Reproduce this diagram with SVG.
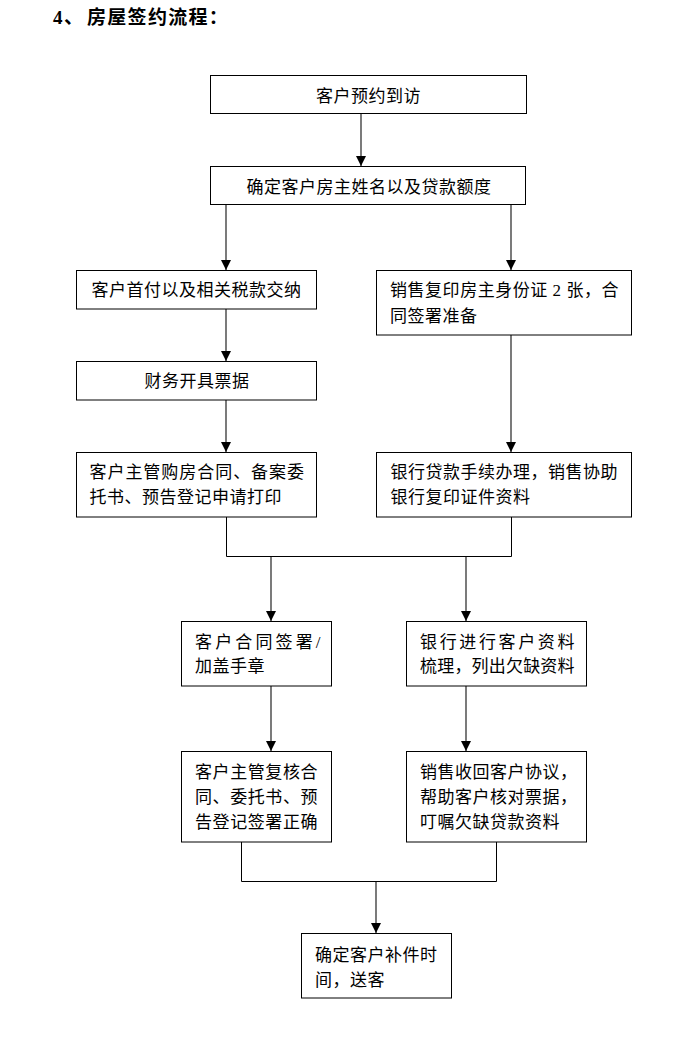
<svg xmlns="http://www.w3.org/2000/svg" width="690" height="1045" viewBox="0 0 690 1045">
<style>
  .box { fill: #fff; stroke: #000; stroke-width: 1; }
  .t { font-family: "Liberation Serif", "Noto Sans CJK SC", serif; font-size: 17px; fill: #000; letter-spacing: 0.5px; }
  .c { text-anchor: middle; }
  .title { font-family: "Liberation Serif", "Noto Sans CJK SC", serif; font-size: 19px; font-weight: bold; fill: #000; }
  .ln { fill: none; stroke: #000; stroke-width: 1; }
  .ar { fill: none; stroke: #333; stroke-width: 1.3; marker-end: url(#arrow); }
</style>
<defs>
  <marker id="arrow" viewBox="0 0 10 10" refX="10" refY="5" markerWidth="10" markerHeight="10" markerUnits="userSpaceOnUse" orient="auto">
    <path d="M0,0 L10,5 L0,10 Z" fill="#000"/>
  </marker>
</defs>
<rect width="690" height="1045" fill="#fff"/>

<g id="title">
  <text class="title" x="53" y="24">4<tspan x="64">、</tspan><tspan x="87" letter-spacing="1.3">房屋签约流程：</tspan></text>
</g>

<g id="connectors">
  <line class="ar" x1="361" y1="114" x2="361" y2="166"/>
  <line class="ar" x1="226" y1="205" x2="226" y2="270"/>
  <line class="ar" x1="511" y1="205" x2="511" y2="270"/>
  <line class="ar" x1="226" y1="309" x2="226" y2="361"/>
  <line class="ar" x1="226" y1="400" x2="226" y2="452"/>
  <line class="ar" x1="511" y1="335" x2="511" y2="452"/>
  <polyline class="ln" points="226.5,517 226.5,556.5 511.5,556.5 511.5,517"/>
  <line class="ar" x1="271" y1="557" x2="271" y2="621"/>
  <line class="ar" x1="466" y1="557" x2="466" y2="621"/>
  <line class="ar" x1="271" y1="686" x2="271" y2="751"/>
  <line class="ar" x1="466" y1="686" x2="466" y2="751"/>
  <polyline class="ln" points="241.5,842 241.5,881.5 496.5,881.5 496.5,842"/>
  <line class="ar" x1="376" y1="882" x2="376" y2="933"/>
</g>

<g id="n1">
  <rect class="box" x="210.5" y="75.5" width="316" height="38"/>
  <text class="t c" x="368.5" y="101.5">客户预约到访</text>
</g>
<g id="n2">
  <rect class="box" x="210.5" y="166.5" width="315" height="38"/>
  <text class="t c" x="369" y="193">确定客户房主姓名以及贷款额度</text>
</g>
<g id="n3">
  <rect class="box" x="76.5" y="270.5" width="240" height="38.5"/>
  <text class="t c" x="196.5" y="296">客户首付以及相关税款交纳</text>
</g>
<g id="n4">
  <rect class="box" x="376.5" y="270.5" width="255" height="64.5"/>
  <text class="t" x="390" y="296" textLength="229" lengthAdjust="spacing">销售复印房主身份证 2 张，合</text>
  <text class="t" x="390" y="321.5">同签署准备</text>
</g>
<g id="n5">
  <rect class="box" x="76.5" y="361.5" width="240" height="38.5"/>
  <text class="t c" x="197" y="386.5">财务开具票据</text>
</g>
<g id="n6">
  <rect class="box" x="76.5" y="452.5" width="240" height="64.5"/>
  <text class="t" x="89.5" y="478" textLength="215" lengthAdjust="spacing">客户主管购房合同、备案委</text>
  <text class="t" x="89.5" y="503">托书、预告登记申请打印</text>
</g>
<g id="n7">
  <rect class="box" x="376.5" y="452.5" width="255" height="64.5"/>
  <text class="t" x="390.5" y="478">银行贷款手续办理，销售协助</text>
  <text class="t" x="390.5" y="503">银行复印证件资料</text>
</g>
<g id="n8">
  <rect class="box" x="181.5" y="621.5" width="150" height="64.5"/>
  <text class="t" x="195" y="648" textLength="126" lengthAdjust="spacing">客户合同签署/</text>
  <text class="t" x="195" y="672">加盖手章</text>
</g>
<g id="n9">
  <rect class="box" x="406.5" y="621.5" width="180" height="64.5"/>
  <text class="t" x="420" y="648" textLength="155" lengthAdjust="spacing">银行进行客户资料</text>
  <text class="t" x="420" y="672" textLength="155" lengthAdjust="spacing">梳理，列出欠缺资料</text>
</g>
<g id="n10">
  <rect class="box" x="181.5" y="751.5" width="150" height="90.5"/>
  <text class="t" x="195" y="777.5" textLength="123" lengthAdjust="spacing">客户主管复核合</text>
  <text class="t" x="195" y="803" textLength="123" lengthAdjust="spacing">同、委托书、预</text>
  <text class="t" x="195" y="828" textLength="123" lengthAdjust="spacing">告登记签署正确</text>
</g>
<g id="n11">
  <rect class="box" x="406.5" y="751.5" width="180" height="90.5"/>
  <text class="t" x="420" y="777.5">销售收回客户协议，</text>
  <text class="t" x="420" y="803">帮助客户核对票据，</text>
  <text class="t" x="420" y="828">叮嘱欠缺贷款资料</text>
</g>
<g id="n12">
  <rect class="box" x="301.5" y="933.5" width="150" height="64.5"/>
  <text class="t" x="315" y="960.5">确定客户补件时</text>
  <text class="t" x="315" y="986">间，送客</text>
</g>
</svg>
